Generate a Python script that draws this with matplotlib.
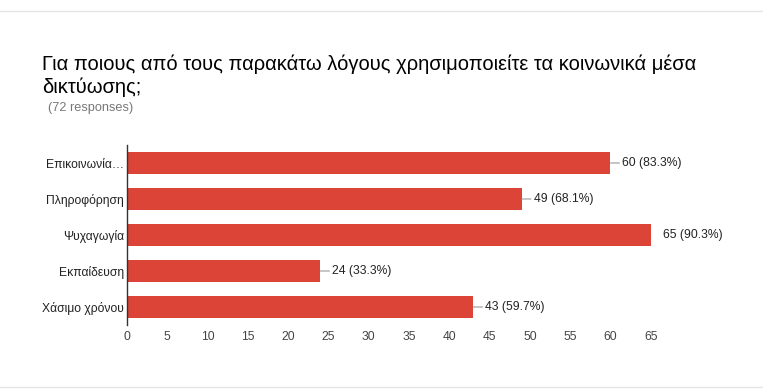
import numpy as np
import matplotlib.pyplot as plt

plt.rcParams['font.family'] = ['Liberation Sans', 'DejaVu Sans']

categories = ['Επικοινωνία…', 'Πληροφόρηση', 'Ψυχαγωγία', 'Εκπαίδευση', 'Χάσιμο χρόνου']
counts = [60, 49, 65, 24, 43]
total = 72
xticks = [0, 5, 10, 15, 20, 25, 30, 35, 40, 45, 50, 55, 60, 65]

fig = plt.figure(figsize=(7.63, 3.9), dpi=100)
ax = fig.add_axes([127 / 763, 65 / 390, 564 / 763, 180 / 390])

y = np.arange(len(categories))
ax.barh(y, counts, height=0.6, color='#dc4437')
ax.set_ylim(len(categories) - 0.5, -0.5)
ax.set_xlim(0, 70)

ax.set_yticks(y)
ax.set_yticklabels(categories, fontsize=8.7, color='#222222')
ax.set_xticks(xticks)
ax.tick_params(axis='x', length=0, labelsize=8.7, labelcolor='#444444', pad=4)
ax.tick_params(axis='y', length=0, pad=2)

for s in ['top', 'right', 'bottom']:
    ax.spines[s].set_visible(False)
ax.spines['left'].set_color('#333333')
ax.spines['left'].set_linewidth(1)

# value labels with short leader lines
for yi, v in zip(y, counts):
    txt = f'{v} ({v / total * 100:.1f}%)'
    if v == max(counts):
        ax.annotate(txt, (v, yi), xytext=(8.5, 0), textcoords='offset points',
                    va='center', ha='left', fontsize=8.7, color='#222222')
    else:
        ax.annotate(txt, (v, yi), xytext=(8.5, 0), textcoords='offset points',
                    va='center', ha='left', fontsize=8.7, color='#222222',
                    arrowprops=dict(arrowstyle='-', color='#999999', lw=0.8,
                                    shrinkA=0, shrinkB=0))

title_lines = ['Για ποιους από τους παρακάτω λόγους χρησιμοποιείτε τα κοινωνικά μέσα',
               'δικτύωσης;']
for i, line in enumerate(title_lines):
    fig.text(42 / 763, 1 - (70 + 23 * i) / 390, line, fontsize=14.5, color='#000000',
             va='baseline', ha='left')
fig.text(48 / 763, 1 - 108 / 390, '(72 responses)', fontsize=9.2, color='#777777',
         va='center', ha='left')

# thin frame lines at top and bottom
fig.add_artist(plt.Line2D([0, 1], [1 - 10.5 / 390, 1 - 10.5 / 390], color='#e5e5e5', lw=1))
fig.add_artist(plt.Line2D([0, 1], [1 - 387 / 390, 1 - 387 / 390], color='#e5e5e5', lw=1))

fig.savefig('out.png', dpi=100)
